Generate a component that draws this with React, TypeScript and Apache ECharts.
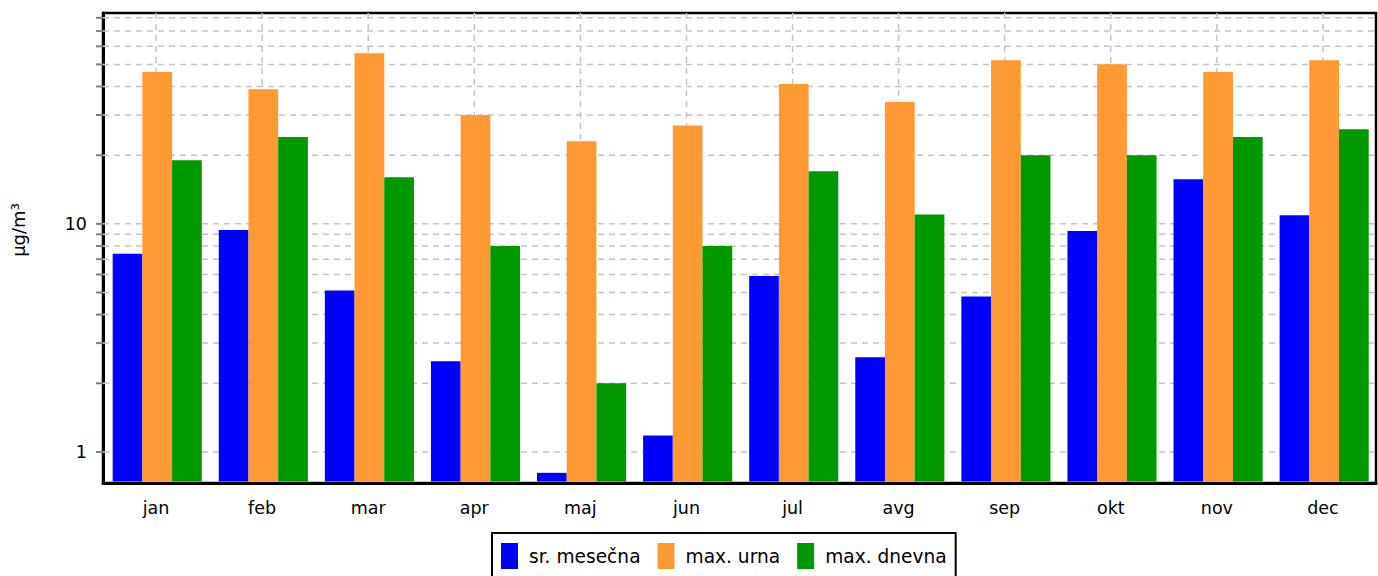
import React, { useEffect, useRef } from "react";
import * as echarts from "echarts";

const categories = ["jan", "feb", "mar", "apr", "maj", "jun", "jul", "avg", "sep", "okt", "nov", "dec"];
const srMesecna = [7.4, 9.4, 5.1, 2.5, 0.81, 1.18, 5.9, 2.6, 4.8, 9.3, 15.7, 10.9];
const maxUrna = [46.3, 38.9, 56, 30, 23, 27, 41, 34.2, 52.2, 50.1, 46.3, 52.2];
const maxDnevna = [19, 24, 16, 8, 2, 8, 17, 11, 20, 20, 24, 26];
const seriesNames = ["sr. mesečna", "max. urna", "max. dnevna"];
const seriesColors = ["#0000ff", "#ff9933", "#009900"];
const gridValues = [1, 2, 3, 4, 5, 6, 7, 8, 9, 10, 20, 30, 40, 50, 60, 70, 80];
const yLabels = [1, 10];

const FONT = "DejaVu Sans";

export default function App() {
  const ref = useRef<HTMLDivElement>(null);
  useEffect(() => {
    if (!ref.current) return;
    const chart = echarts.init(ref.current, null, { renderer: "svg" });
    const hLines = (params: any, api: any) => {
      const cs = params.coordSys;
      const y = api.coord([0, api.value(1)])[1];
      return {
        type: "group",
        children: [
          {
            type: "line",
            shape: { x1: cs.x, y1: y, x2: cs.x + cs.width, y2: y },
            style: { stroke: "#c4c4c4", lineWidth: 1.5, lineDash: [6, 5] },
          },
          {
            type: "line",
            shape: { x1: cs.x - 7, y1: y, x2: cs.x, y2: y },
            style: { stroke: "#808080", lineWidth: 2 },
          },
        ],
      };
    };
    const vLines = (params: any, api: any) => {
      const cs = params.coordSys;
      const x = api.coord([api.value(0), 1])[0];
      return {
        type: "line",
        shape: { x1: x, y1: cs.y, x2: x, y2: cs.y + cs.height },
        style: { stroke: "#c4c4c4", lineWidth: 1.5, lineDash: [6, 5] },
      };
    };
    const barRenderer = (k: number) => (params: any, api: any) => {
      const cs = params.coordSys;
      const catW = api.size([1, 0])[0];
      const barW = catW * 0.28;
      const pt = api.coord([api.value(0), api.value(1)]);
      const x = pt[0] - 1.5 * barW + k * barW + 1.2;
      const bottom = cs.y + cs.height - 1.5;
      return {
        type: "rect",
        shape: { x, y: pt[1], width: barW, height: bottom - pt[1] },
        style: { fill: seriesColors[k] },
      };
    };
    const barSeries = [srMesecna, maxUrna, maxDnevna].map((vals, k) => ({
      type: "custom",
      name: seriesNames[k],
      z: 2,
      clip: true,
      itemStyle: { color: seriesColors[k] },
      renderItem: barRenderer(k),
      data: vals.map((v, i) => [i, v]),
      encode: { x: 0, y: 1 },
    }));
    chart.setOption({
      animation: false,
      textStyle: { fontFamily: FONT },
      grid: {
        left: 103,
        right: 2,
        top: 13,
        bottom: 93,
        show: true,
        borderColor: "#000",
        borderWidth: 2.5,
        backgroundColor: "transparent",
      },
      legend: {
        data: seriesNames,
        left: 492,
        top: 533,
        padding: [10, 9, 10, 9],
        borderColor: "#000",
        borderWidth: 2,
        itemWidth: 17,
        itemHeight: 26,
        itemGap: 17,
        icon: "rect",
        textStyle: { fontFamily: FONT, fontSize: 18.6, color: "#000", padding: [0, 0, 0, 6] },
      },
      xAxis: {
        type: "category",
        data: categories,
        axisLine: { lineStyle: { color: "#000", width: 3 } },
        axisTick: { alignWithLabel: true, length: 6, lineStyle: { color: "#000", width: 2 } },
        axisLabel: { color: "#000", fontSize: 17.5, fontFamily: FONT, margin: 16 },
        splitLine: { show: false },
      },
      yAxis: {
        type: "log",
        logBase: 10,
        min: 0.731,
        max: 84,
        name: "µg/m³",
        nameLocation: "middle",
        nameRotate: 90,
        nameGap: 76,
        nameTextStyle: { color: "#000", fontSize: 18, fontFamily: FONT, padding: [0, 0, 0, 36] },
        axisLine: { show: true, lineStyle: { color: "#000", width: 3 } },
        axisTick: { show: false },
        splitLine: { show: false },
        axisLabel: {
          color: "#000",
          fontSize: 17.5,
          fontFamily: FONT,
          margin: 16,
          formatter: (v: number) => {
            const r = Math.round(v * 1000) / 1000;
            return yLabels.includes(r) ? String(r) : "";
          },
        },
      },
      series: [
        {
          type: "custom",
          name: "hgrid",
          silent: true,
          clip: false,
          z: 1,
          renderItem: hLines,
          data: gridValues.map((v) => [0, v]),
          encode: { x: 0, y: 1 },
        },
        {
          type: "custom",
          name: "vgrid",
          silent: true,
          clip: false,
          z: 1,
          renderItem: vLines,
          data: categories.map((_, i) => [i, 1]),
          encode: { x: 0, y: 1 },
        },
        ...barSeries,
      ],
    });
    return () => chart.dispose();
  }, []);
  return (
    <div
      ref={ref}
      style={{ position: "fixed", left: 0, top: 0, width: 1378, height: 576, background: "#fff" }}
    />
  );
}
